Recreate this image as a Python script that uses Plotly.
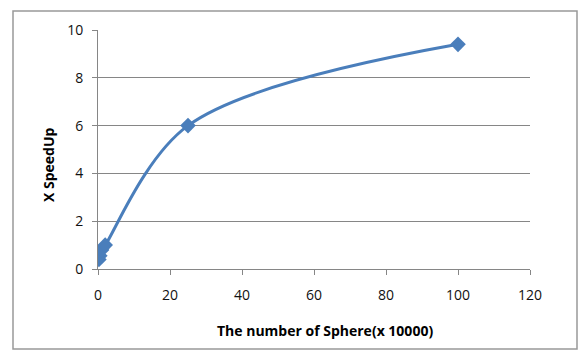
import plotly.graph_objects as go

spheres = [0.25, 0.5, 1, 2, 25, 100]
speedup = [0.4, 0.55, 0.8, 1.0, 6.0, 9.4]
x_ticks = [0, 20, 40, 60, 80, 100, 120]
y_ticks = [0, 2, 4, 6, 8, 10]

W, H = 578, 350
L, R, T, B = 98, 48, 30, 81
pw, ph = W - L - R, H - T - B

fig = go.Figure()
fig.add_trace(go.Scatter(
    x=spheres, y=speedup, mode="lines+markers",
    line=dict(color="#4a7ebb", width=3, shape="spline", smoothing=1),
    marker=dict(symbol="diamond", size=12, color="#4a7ebb"),
    showlegend=False,
))

tickfont = dict(family="Open Sans, DejaVu Sans, sans-serif", size=14, color="#111")
fig.update_layout(
    width=W, height=H, margin=dict(l=L, r=R, t=T, b=B),
    paper_bgcolor="white", plot_bgcolor="white",
    xaxis=dict(range=[0, 120], tickvals=x_ticks, showgrid=False, zeroline=False,
               showline=True, linecolor="#868686", linewidth=1,
               ticks="outside", ticklen=5, tickcolor="#868686", tickfont=tickfont,
               ticklabelstandoff=8),
    yaxis=dict(range=[0, 10], tickvals=y_ticks, showgrid=True, gridcolor="#868686",
               gridwidth=1, zeroline=False, showline=True, linecolor="#868686",
               ticks="outside", ticklen=5, tickcolor="#868686", tickfont=tickfont,
               ticklabelstandoff=6),
)
titlefont = dict(family="Open Sans, DejaVu Sans, sans-serif", size=14, color="#000", weight="bold")
fig.add_annotation(text="The number of Sphere(x 10000)", xref="paper", yref="paper",
                   x=(325 - L) / pw, y=(H - B - 330) / ph, showarrow=False, font=titlefont,
                   xanchor="center", yanchor="middle")
fig.add_annotation(text="X SpeedUp", xref="paper", yref="paper",
                   x=(48 - L) / pw, y=(H - B - 165) / ph, showarrow=False, font=titlefont,
                   textangle=-90, xanchor="center", yanchor="middle")
fig.add_shape(type="rect", xref="paper", yref="paper",
              x0=(13 - L) / pw, x1=(577 - L) / pw,
              y0=(H - B - 349) / ph, y1=(H - B - 11) / ph,
              line=dict(color="#999999", width=1.5), layer="below")
fig.write_html("out.html")
